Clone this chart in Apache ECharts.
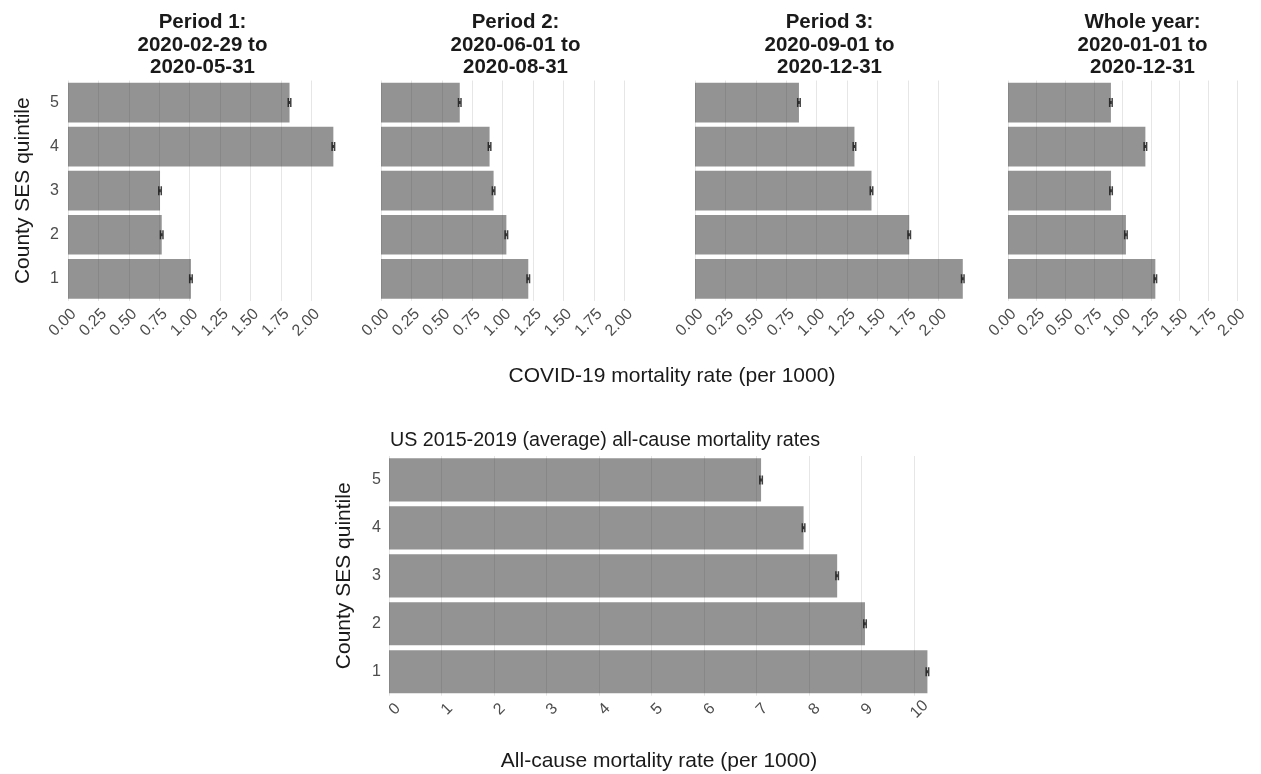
<!DOCTYPE html>
<html>
<head>
<meta charset="utf-8">
<script src="https://cdn.jsdelivr.net/npm/echarts@6/dist/echarts.min.js"></script>
<style>html,body{margin:0;padding:0;background:#fff}#c{width:1261px;height:774px}</style>
</head>
<body>
<div id="c"></div>
<script>
// ---- data ----
var quintiles = ['1', '2', '3', '4', '5'];
var panelTitles = [
  'Period 1:\n2020-02-29 to\n2020-05-31',
  'Period 2:\n2020-06-01 to\n2020-08-31',
  'Period 3:\n2020-09-01 to\n2020-12-31',
  'Whole year:\n2020-01-01 to\n2020-12-31'
];
// COVID-19 mortality rate (per 1000), quintile 1..5
var period1 = [1.01, 0.77, 0.756, 2.18, 1.82];
var period2 = [1.21, 1.03, 0.925, 0.892, 0.647];
var period3 = [2.20, 1.76, 1.45, 1.31, 0.854];
var wholeYear = [1.287, 1.03, 0.90, 1.20, 0.899];
// All-cause mortality rate (per 1000), 2015-2019 average
var allCause = [10.26, 9.07, 8.54, 7.90, 7.09];
var covidTicks = ['0.00', '0.25', '0.50', '0.75', '1.00', '1.25', '1.50', '1.75', '2.00'];
var allCauseTicks = ['0', '1', '2', '3', '4', '5', '6', '7', '8', '9', '10'];
var covidTitle = 'COVID-19 mortality rate (per 1000)';
var allCauseTitle = 'All-cause mortality rate (per 1000)';
var bottomSubtitle = 'US 2015-2019 (average) all-cause mortality rates';
var yTitle = 'County SES quintile';

// ---- layout ----
var FONT = '"Liberation Sans", Arial, Helvetica, sans-serif';
var topLefts = [68, 381, 695, 1008];
var topWidth = 269, topTop = 80.5, topHeight = 220.4;
var botLeft = 389, botWidth = 540, botTop = 455.9, botHeight = 239.8;
var covidSets = [period1, period2, period3, wholeYear];

var grids = [], xAxes = [], yAxes = [], series = [], titles = [];
var barColor = 'rgba(40,40,40,0.5)';
var errSymbol = 'path://M0,0H1.5V3H2.5V0H4V9H2.5V6H1.5V9H0Z';

function addPanel(idx, left, top, width, height, values, xmax, interval, ticks, showY, labelCfg, yLabelMargin) {
  grids.push({left: left, top: top, width: width, height: height, containLabel: false});
  xAxes.push({
    type: 'value', gridIndex: idx, min: 0, max: xmax, interval: interval,
    axisLine: {show: false}, axisTick: {show: false},
    splitLine: {show: true, showMaxLine: false, lineStyle: {color: '#e6e6e6', width: 1}},
    axisLabel: Object.assign({
      show: true, rotate: 45, color: '#4d4d4d', fontFamily: FONT, showMaxLabel: false,
      formatter: function (v) {
        var i = Math.round(v / interval);
        if (Math.abs(v - i * interval) > 1e-6) return '';
        return ticks[i] !== undefined ? ticks[i] : '';
      }
    }, labelCfg)
  });
  yAxes.push({
    type: 'category', gridIndex: idx, data: quintiles,
    axisLine: {show: false}, axisTick: {show: false}, splitLine: {show: false},
    axisLabel: {show: showY, color: '#4d4d4d', fontSize: 16, fontFamily: FONT, margin: yLabelMargin},
    name: showY ? yTitle : '', nameLocation: 'middle', nameRotate: 90, nameGap: 34,
    nameTextStyle: {color: '#1a1a1a', fontSize: 21, fontFamily: FONT}
  });
  series.push({
    type: 'bar', xAxisIndex: idx, yAxisIndex: idx, data: values,
    barCategoryGap: '10%', itemStyle: {color: barColor}, silent: true
  });
  series.push({
    type: 'scatter', xAxisIndex: idx, yAxisIndex: idx,
    data: values.map(function (v, i) { return [v, quintiles[i]]; }),
    symbol: errSymbol, symbolSize: [4, 9], itemStyle: {color: '#111'}, silent: true, z: 5
  });
}

for (var p = 0; p < 4; p++) {
  addPanel(p, topLefts[p], topTop, topWidth, topHeight, covidSets[p], 2.21, 0.25, covidTicks, p === 0,
    {fontSize: 16, align: 'right', verticalAlign: 'top', margin: 5}, 9);
  titles.push({
    text: panelTitles[p], left: topLefts[p] + topWidth / 2, top: 11, textAlign: 'center', padding: 0,
    textStyle: {fontSize: 20.5, fontWeight: 'bold', color: '#1a1a1a', lineHeight: 22.7, fontFamily: FONT}
  });
}
addPanel(4, botLeft, botTop, botWidth, botHeight, allCause, 10.29, 1, allCauseTicks, true,
  {fontSize: 16, align: 'center', verticalAlign: 'top', margin: 8}, 8);

titles.push({
  text: covidTitle, left: 672, top: 366, textAlign: 'center', padding: 0,
  textStyle: {fontSize: 21, fontWeight: 'normal', color: '#1a1a1a', fontFamily: FONT}
});
titles.push({
  text: bottomSubtitle, left: 390, top: 431, padding: 0,
  textStyle: {fontSize: 19.7, fontWeight: 'normal', color: '#1a1a1a', fontFamily: FONT}
});
titles.push({
  text: allCauseTitle, left: botLeft + botWidth / 2, top: 751, textAlign: 'center', padding: 0,
  textStyle: {fontSize: 21, fontWeight: 'normal', color: '#1a1a1a', fontFamily: FONT}
});

var chart = echarts.init(document.getElementById('c'), null, {renderer: 'canvas'});
chart.setOption({
  backgroundColor: '#fff',
  animation: false,
  title: titles,
  grid: grids,
  xAxis: xAxes,
  yAxis: yAxes,
  series: series
});
</script>
</body>
</html>
